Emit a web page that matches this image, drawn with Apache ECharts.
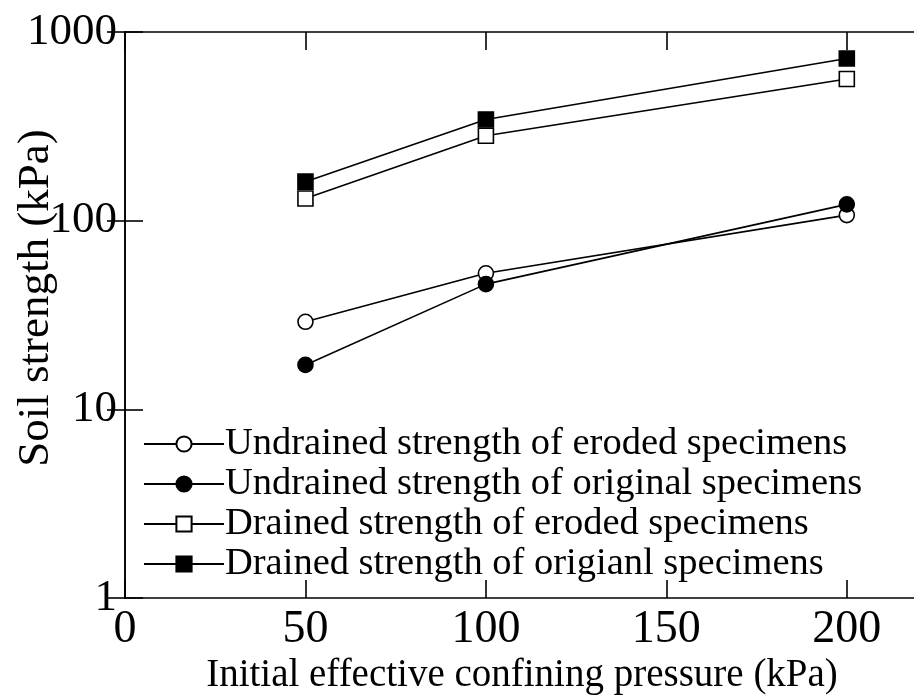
<!DOCTYPE html>
<html>
<head>
<meta charset="utf-8">
<script src="https://cdn.jsdelivr.net/npm/echarts@6/dist/echarts.min.js"></script>
<style>
html,body{margin:0;padding:0;background:#fff;}
#chart{width:914px;height:697px;}
</style>
</head>
<body>
<div id="chart"></div>
<script>
// Data
const pressures = [50, 100, 200];
const undrainedEroded = [29.1, 52.6, 107];
const undrainedOriginal = [17.2, 46.1, 122];
const drainedEroded = [131, 282, 563];
const drainedOriginal = [161, 344, 724];
const seriesNames = [
  'Undrained strength of eroded specimens',
  'Undrained strength of original specimens',
  'Drained strength of eroded specimens',
  'Drained strength of origianl specimens'
];
const xTicks = [0, 50, 100, 150, 200];
const yTicks = [1, 10, 100, 1000];

const FONT = '"Liberation Serif", "Times New Roman", serif';
const pairs = v => pressures.map((p, i) => [p, v[i]]);

function mkSeries(name, data, symbol, filled) {
  return {
    name: name,
    type: 'line',
    data: pairs(data),
    symbol: symbol,
    symbolSize: 15,
    showAllSymbol: true,
    lineStyle: { color: '#000', width: 1.6 },
    itemStyle: { color: filled ? '#000' : '#fff', borderColor: '#000', borderWidth: 1.6 },
    emphasis: { disabled: true },
    animation: false
  };
}

const chart = echarts.init(document.getElementById('chart'), null, { renderer: 'canvas' });
const axisLineStyle = { lineStyle: { color: '#000', width: 1.6 } };
const tickStyle = { inside: true, length: 18, lineStyle: { color: '#000', width: 1.6 } };

chart.setOption({
  animation: false,
  backgroundColor: '#fff',
  grid: { left: 125, top: 32, right: -5, bottom: 99, containLabel: false, outerBoundsMode: 'none' },
  legend: {
    orient: 'vertical',
    left: 143,
    top: 424,
    itemWidth: 80,
    itemHeight: 19,
    itemGap: 0,
    padding: 0,
    textStyle: { fontFamily: FONT, fontSize: 38.5, color: '#000', lineHeight: 40, padding: [0, 0, 0, -4] },
    data: seriesNames
  },
  xAxis: [
    {
      type: 'value', min: 0, max: 220, interval: 50, position: 'bottom',
      axisLine: axisLineStyle, axisTick: tickStyle, splitLine: { show: false },
      axisLabel: {
        fontFamily: FONT, fontSize: 46, color: '#000', margin: 9,
        formatter: v => (xTicks.indexOf(v) >= 0 ? String(v) : '')
      },
      name: 'Initial effective confining pressure (kPa)',
      nameLocation: 'middle', nameGap: 58, nameMoveOverlap: false,
      nameTextStyle: { fontFamily: FONT, fontSize: 39, color: '#000' }
    },
    {
      type: 'value', min: 0, max: 220, interval: 50, position: 'top',
      axisLine: axisLineStyle, axisTick: tickStyle, splitLine: { show: false },
      axisLabel: { show: false }
    }
  ],
  yAxis: [
    {
      type: 'log', logBase: 10, min: 1, max: 1000, position: 'left',
      axisLine: axisLineStyle, axisTick: tickStyle, splitLine: { show: false },
      minorTick: { show: false },
      axisLabel: {
        fontFamily: FONT, fontSize: 45, color: '#000', margin: 8,
        formatter: v => (yTicks.indexOf(Math.round(v)) >= 0 ? String(Math.round(v)) : '')
      },
      name: 'Soil strength (kPa)',
      nameLocation: 'middle', nameGap: 66, nameRotate: 90, nameMoveOverlap: false,
      nameTextStyle: { fontFamily: FONT, fontSize: 45, color: '#000', padding: [0, 0, 0, 34] }
    },
    {
      type: 'log', logBase: 10, min: 1, max: 1000, position: 'right',
      axisLine: axisLineStyle, axisTick: tickStyle, splitLine: { show: false },
      axisLabel: { show: false }
    }
  ],
  series: [
    mkSeries(seriesNames[0], undrainedEroded, 'circle', false),
    mkSeries(seriesNames[1], undrainedOriginal, 'circle', true),
    mkSeries(seriesNames[2], drainedEroded, 'rect', false),
    mkSeries(seriesNames[3], drainedOriginal, 'rect', true)
  ]
});
</script>
</body>
</html>
